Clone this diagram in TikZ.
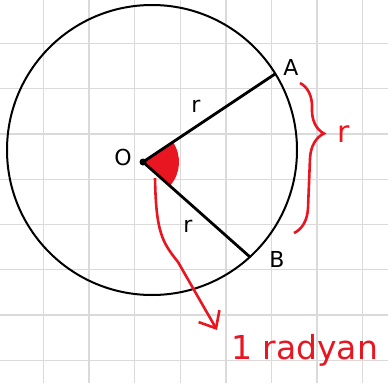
\documentclass[tikz,border=0pt]{standalone}
\usepackage{fontspec}
\setmainfont{DejaVu Sans}
\usetikzlibrary{arrows.meta,calc,decorations.pathreplacing}
\definecolor{penred}{RGB}{232,22,32}
\definecolor{gridgray}{RGB}{218,218,218}

\begin{document}
\begin{tikzpicture}[x=1pt,y=-1pt,>={Straight Barb[length=14pt,width=24pt]},
  lbl/.style={inner sep=0pt,font=\fontsize{22}{22}\selectfont},
  redlbl/.style={lbl,text=penred}]
\useasboundingbox (0,0) rectangle (388,383);
% squared paper
\foreach \gx in {43.5,89.1,...,380} \draw[gridgray,line width=1.3pt] (\gx,0) -- (\gx,383);
\foreach \gy in {43.3,88.6,...,380} \draw[gridgray,line width=1.3pt] (0,\gy) -- (388,\gy);
% circle and points
\draw[line width=2pt] (152,150) circle[radius=145pt];
\coordinate (O) at (143,162);
\coordinate (A) at (275,74);
\coordinate (B) at (250,257);
% angle
\fill[penred] (O) -- ($(O)+(33.7:36pt)$) arc[start angle=33.7,end angle=-41.6,radius=36pt] -- cycle;
\draw[line width=2.8pt] (A) -- (O) -- (B);
\fill (O) circle[radius=3.5pt];
% labels
\node[lbl] (labO) at (123,157) {O};
\node[lbl] (labA) at (291,67) {A};
\node[lbl] (labB) at (277,259) {B};
\node[lbl] (rOA) at (196,106) {r};
\node[lbl] (rOB) at (188,226) {r};
% arc length brace
\coordinate (bracetop) at (300,83);
\coordinate (bracebot) at (294,233);
\draw[penred,line width=2.6pt,decorate,decoration={brace,amplitude=26pt,aspect=0.33}] (bracetop) -- (bracebot);
\node[redlbl,font=\fontsize{30}{30}\selectfont] (rArc) at (344,134) {r};
% radian arrow
\coordinate (tail) at (155,178);
\coordinate (tip) at (217,330);
\draw[penred,line width=2.6pt,->] (tail) .. controls (156,232) and (162,242) .. (178,262) -- (tip);
\node[redlbl,font=\fontsize{33}{33}\selectfont,anchor=west] (radyan) at (231,350) {1 radyan};
\end{tikzpicture}
\end{document}
